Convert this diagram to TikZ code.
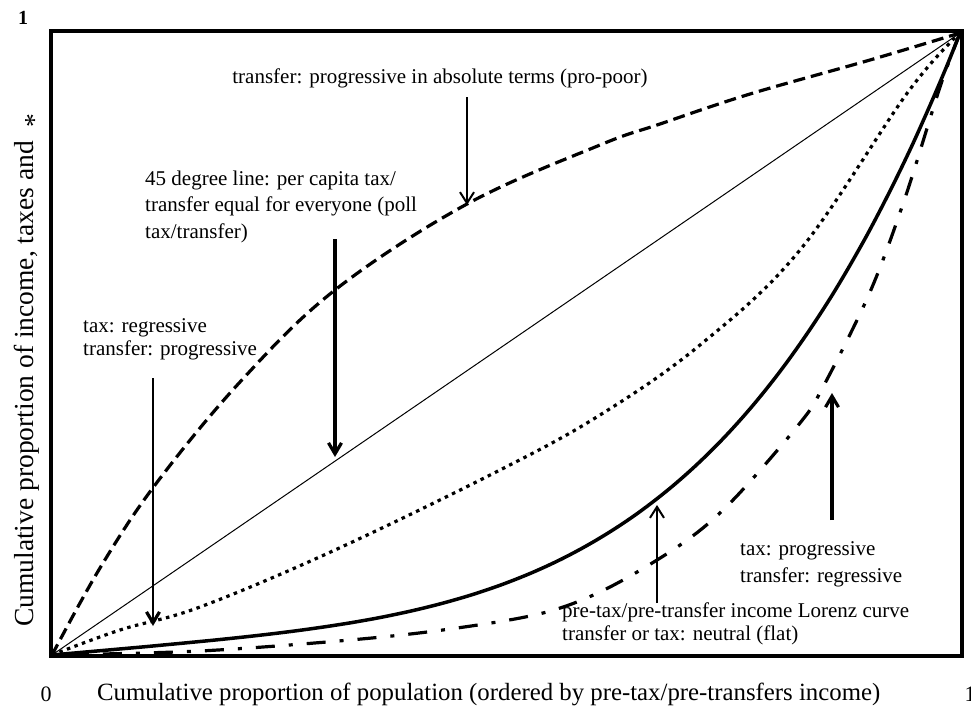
\documentclass[tikz,border=0pt]{standalone}
\usepackage{fontspec}
\setmainfont{Liberation Serif}
\usetikzlibrary{arrows.meta}
\begin{document}
\begin{tikzpicture}[x=1pt,y=-1pt,
  lbl/.style={inner sep=0pt,align=left},
  axlbl/.style={inner sep=0pt,font=\fontsize{24.8}{24}\selectfont},
  curve/.style={line width=3.2pt,line cap=butt},
  thinarrow/.style={line width=2pt,-{Straight Barb[length=11pt,width=14pt,line width=2pt]}},
  thickarrow/.style={line width=3.2pt,-{Straight Barb[length=11pt,width=13pt,line width=3.2pt]}}]
\useasboundingbox (0,0) rectangle (971,709);
% frame
\draw[line width=4pt] (51,31) rectangle (962,656);
\coordinate (O) at (52,655);
\coordinate (T) at (960,33);
% 45 degree line
\draw[line width=1pt] (O) -- (T);
% dashed (pro-poor)
\draw[curve,dash pattern=on 12pt off 6pt] plot[smooth,tension=0.6] coordinates{(52,655) (100,568) (155,485) (240,382) (335,290) (467,204) (600,145) (660,124) (750,94) (870,60) (960,33)};
% dotted
\draw[curve,dash pattern=on 3.5pt off 4.5pt] plot[smooth,tension=0.6] coordinates{(52,655) (120,630) (200,607) (335,550) (500,470) (600,415) (700,345) (800,250) (908,92) (960,33)};
% solid Lorenz
\draw[line width=3.5pt] plot[domain=0:1,samples=80,smooth] ({52+908*\x},{655-622*(0.13*\x+0.87*pow(\x,4.1))});
% dash-dot
\draw[curve,dash pattern=on 19pt off 14pt on 4pt off 14pt] plot[smooth,tension=0.55] coordinates{(52,655) (200,651) (350,640) (450,629) (543,613) (608,588) (683,543) (733,500) (800,423) (823,387) (870,292) (905,198) (940,87) (960,33)};
% labels
\node[lbl,anchor=base,font=\fontsize{21}{25}\selectfont] (tp) at (440,83) {transfer: progressive in absolute terms (pro-poor)};
\node[lbl,anchor=base west,font=\fontsize{21}{26.5}\selectfont] (dl) at (145,238) {45 degree line: per capita tax/\\transfer equal for everyone (poll\\tax/transfer)};
\node[lbl,anchor=base west,font=\fontsize{21}{23.5}\selectfont] (reg) at (83,355.5) {tax: regressive\\transfer: progressive};
\node[lbl,anchor=base west,font=\fontsize{21}{27}\selectfont] (prog) at (740,582) {tax: progressive\\transfer: regressive};
\node[lbl,anchor=base west,font=\fontsize{21}{23}\selectfont] (lor) at (562,640) {pre-tax/pre-transfer income Lorenz curve\\transfer or tax: neutral (flat)};
% arrows
\coordinate (a1s) at (467,97);  \coordinate (a1e) at (467,205);
\coordinate (a2s) at (335,239); \coordinate (a2e) at (335,457);
\coordinate (a3s) at (153,378); \coordinate (a3e) at (153,626);
\coordinate (a4s) at (657,603); \coordinate (a4e) at (657,505);
\coordinate (a5s) at (832,520); \coordinate (a5e) at (832,393);
\draw[thinarrow] (a1s) -- (a1e);
\draw[thickarrow] (a2s) -- (a2e);
\draw[thickarrow,line width=2.8pt] (a3s) -- (a3e);
\draw[thinarrow] (a4s) -- (a4e);
\draw[thickarrow,line width=4pt] (a5s) -- (a5e);
% axis labels
\node[inner sep=0pt,anchor=base,font=\fontsize{22}{22}\selectfont] (z) at (46,701) {0};
\node[inner sep=0pt,anchor=base,font=\fontsize{22}{22}\selectfont] (one) at (970,701) {1};
\node[axlbl,anchor=base west] (xl) at (97,700) {Cumulative proportion of population (ordered by pre-tax/pre-transfers income)};
\node[inner sep=0pt,anchor=base west,rotate=90,font=\fontsize{27.5}{28}\selectfont] (yl) at (33,627) {Cumulative proportion of income, taxes and\hspace{14pt}\raisebox{-10pt}{*}};
\node[inner sep=0pt,font=\fontsize{20}{20}\selectfont\bfseries,anchor=base] (top1) at (23,25) {1};
\end{tikzpicture}
\end{document}
